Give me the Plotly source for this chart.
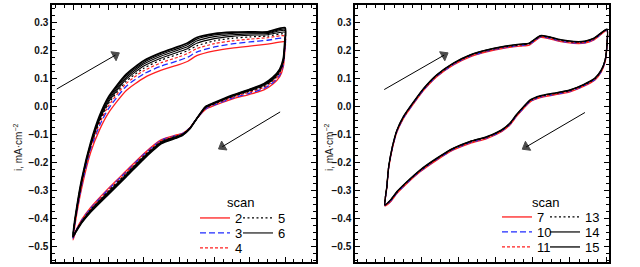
import plotly.graph_objects as go

# ---------------- data: left panel (scans 2-6 and later black scans) ----------------
E_up_L = [0, 0.02, 0.05, 0.1, 0.15, 0.2, 0.3, 0.4, 0.5, 0.6, 0.65, 0.7, 0.8, 0.9, 1.0, 1.1, 1.2]
E_dn_L = [1.2, 1.198, 1.19, 1.17, 1.13, 1.08, 1.0, 0.9, 0.8, 0.75, 0.7, 0.66, 0.62, 0.58, 0.5, 0.4, 0.3, 0.2, 0.1, 0.05, 0.02, 0]

scan2_up = [-0.478, -0.39, -0.29, -0.165, -0.085, -0.025, 0.055, 0.1, 0.128, 0.148, 0.16, 0.18, 0.197, 0.207, 0.214, 0.221, 0.229]
scan3_up = [-0.472, -0.382, -0.28, -0.152, -0.07, -0.01, 0.07, 0.115, 0.143, 0.163, 0.175, 0.193, 0.211, 0.222, 0.229, 0.235, 0.242]
scan4_up = [-0.47, -0.378, -0.275, -0.146, -0.062, 0.0, 0.08, 0.126, 0.155, 0.176, 0.188, 0.205, 0.223, 0.233, 0.239, 0.244, 0.25]
scan5_up = [-0.468, -0.375, -0.271, -0.142, -0.055, 0.008, 0.088, 0.135, 0.165, 0.186, 0.198, 0.215, 0.233, 0.242, 0.247, 0.25, 0.257]
scan6_up = [-0.467, -0.373, -0.268, -0.139, -0.05, 0.014, 0.095, 0.143, 0.172, 0.194, 0.206, 0.224, 0.241, 0.249, 0.253, 0.255, 0.264]
scan6b_up = [-0.466, -0.371, -0.265, -0.136, -0.045, 0.02, 0.101, 0.15, 0.179, 0.201, 0.213, 0.232, 0.248, 0.255, 0.258, 0.259, 0.27]
scan6c_up = [-0.465, -0.369, -0.262, -0.133, -0.04, 0.026, 0.107, 0.156, 0.185, 0.207, 0.22, 0.239, 0.254, 0.26, 0.262, 0.262, 0.275]
scan6d_up = [-0.464, -0.367, -0.259, -0.13, -0.035, 0.032, 0.113, 0.162, 0.191, 0.213, 0.226, 0.245, 0.259, 0.264, 0.265, 0.265, 0.28]

scan2_dn = [0.229, 0.19, 0.14, 0.105, 0.078, 0.058, 0.042, 0.025, 0.002, -0.012, -0.045, -0.078, -0.097, -0.104, -0.12, -0.17, -0.232, -0.294, -0.362, -0.405, -0.44, -0.478]
scan3_dn = [0.242, 0.199, 0.147, 0.111, 0.083, 0.063, 0.046, 0.028, 0.004, -0.01, -0.045, -0.079, -0.098, -0.106, -0.122, -0.173, -0.236, -0.298, -0.365, -0.407, -0.441, -0.472]
scan4_dn = [0.25, 0.205, 0.152, 0.116, 0.087, 0.067, 0.05, 0.031, 0.006, -0.008, -0.045, -0.079, -0.099, -0.107, -0.124, -0.176, -0.239, -0.301, -0.368, -0.409, -0.442, -0.47]
scan5_dn = [0.257, 0.21, 0.156, 0.12, 0.091, 0.07, 0.053, 0.033, 0.008, -0.006, -0.045, -0.08, -0.1, -0.109, -0.126, -0.179, -0.242, -0.304, -0.37, -0.411, -0.443, -0.468]
scan6_dn = [0.264, 0.215, 0.16, 0.124, 0.094, 0.073, 0.055, 0.035, 0.009, -0.005, -0.045, -0.08, -0.101, -0.11, -0.128, -0.181, -0.245, -0.307, -0.372, -0.412, -0.443, -0.467]
scan6b_dn = [0.27, 0.22, 0.163, 0.127, 0.097, 0.076, 0.057, 0.036, 0.01, -0.004, -0.045, -0.081, -0.102, -0.112, -0.13, -0.184, -0.248, -0.31, -0.374, -0.414, -0.444, -0.466]
scan6c_dn = [0.275, 0.224, 0.166, 0.13, 0.1, 0.078, 0.059, 0.037, 0.011, -0.003, -0.045, -0.081, -0.103, -0.113, -0.132, -0.186, -0.25, -0.312, -0.376, -0.415, -0.444, -0.465]
scan6d_dn = [0.28, 0.228, 0.169, 0.132, 0.102, 0.08, 0.06, 0.038, 0.012, -0.002, -0.045, -0.082, -0.104, -0.115, -0.134, -0.189, -0.253, -0.315, -0.378, -0.416, -0.445, -0.464]

# ---------------- data: right panel (scans 7-15) ----------------
E_up_R = [0, 0.01, 0.02, 0.04, 0.065, 0.1, 0.15, 0.21, 0.28, 0.37, 0.46, 0.55, 0.64, 0.73, 0.78, 0.805, 0.84, 0.88, 0.95, 1.02, 1.08, 1.13, 1.2]
E_dn_R = [1.2, 1.199, 1.19, 1.17, 1.135, 1.07, 1.0, 0.91, 0.84, 0.785, 0.75, 0.71, 0.675, 0.63, 0.55, 0.46, 0.37, 0.28, 0.19, 0.12, 0.065, 0.03, 0]

scan7_up = [-0.357, -0.293, -0.222, -0.151, -0.092, -0.044, 0.004, 0.057, 0.105, 0.147, 0.176, 0.194, 0.206, 0.214, 0.218, 0.230, 0.245, 0.242, 0.230, 0.224, 0.225, 0.236, 0.270]
scan10_up = [-0.355, -0.291, -0.220, -0.149, -0.090, -0.042, 0.006, 0.059, 0.107, 0.149, 0.178, 0.196, 0.208, 0.216, 0.220, 0.232, 0.247, 0.244, 0.232, 0.226, 0.227, 0.238, 0.271]
scan11_up = [-0.354, -0.290, -0.219, -0.148, -0.089, -0.041, 0.007, 0.060, 0.108, 0.150, 0.179, 0.197, 0.209, 0.217, 0.221, 0.233, 0.248, 0.245, 0.233, 0.227, 0.228, 0.239, 0.272]
scan13_up = [-0.353, -0.289, -0.218, -0.146, -0.087, -0.039, 0.009, 0.062, 0.110, 0.152, 0.181, 0.199, 0.211, 0.219, 0.223, 0.235, 0.250, 0.247, 0.235, 0.229, 0.230, 0.241, 0.273]
scan14_up = [-0.353, -0.288, -0.217, -0.145, -0.086, -0.038, 0.010, 0.063, 0.111, 0.153, 0.182, 0.200, 0.212, 0.220, 0.224, 0.236, 0.251, 0.248, 0.236, 0.230, 0.231, 0.242, 0.274]
scan15_up = [-0.352, -0.287, -0.216, -0.144, -0.085, -0.037, 0.011, 0.064, 0.112, 0.154, 0.183, 0.201, 0.213, 0.221, 0.225, 0.237, 0.252, 0.249, 0.237, 0.231, 0.232, 0.243, 0.275]

scan7_dn = [0.270, 0.206, 0.158, 0.123, 0.093, 0.069, 0.051, 0.039, 0.030, 0.015, -0.008, -0.038, -0.068, -0.092, -0.116, -0.133, -0.157, -0.193, -0.235, -0.276, -0.312, -0.342, -0.357]
scan10_dn = [0.271, 0.208, 0.160, 0.125, 0.095, 0.071, 0.053, 0.041, 0.032, 0.017, -0.006, -0.036, -0.066, -0.090, -0.114, -0.131, -0.155, -0.191, -0.233, -0.274, -0.310, -0.340, -0.355]
scan11_dn = [0.272, 0.209, 0.161, 0.126, 0.096, 0.072, 0.054, 0.042, 0.033, 0.018, -0.005, -0.035, -0.065, -0.089, -0.113, -0.130, -0.154, -0.190, -0.232, -0.273, -0.309, -0.339, -0.354]
scan13_dn = [0.273, 0.211, 0.163, 0.128, 0.098, 0.074, 0.056, 0.044, 0.035, 0.020, -0.003, -0.033, -0.063, -0.087, -0.111, -0.128, -0.152, -0.188, -0.230, -0.271, -0.307, -0.337, -0.353]
scan14_dn = [0.274, 0.212, 0.164, 0.129, 0.099, 0.075, 0.057, 0.045, 0.036, 0.021, -0.002, -0.032, -0.062, -0.086, -0.110, -0.127, -0.151, -0.187, -0.229, -0.270, -0.306, -0.336, -0.353]
scan15_dn = [0.275, 0.213, 0.165, 0.13, 0.1, 0.076, 0.058, 0.046, 0.037, 0.022, -0.001, -0.031, -0.061, -0.085, -0.109, -0.126, -0.15, -0.186, -0.228, -0.269, -0.305, -0.335, -0.352]

# scan-direction arrows ([tail E, head E], [tail i, head i]) per panel
arrow_left_fwd = ([-0.092, 0.24], [0.061, 0.182])
arrow_left_rev = ([1.172, 0.845], [-0.021, -0.145])
arrow_right_fwd = ([-0.004, 0.32], [0.059, 0.182])
arrow_right_rev = ([1.081, 0.763], [-0.023, -0.146])

y_title = "i, mA·cm<sup>−2</sup>"

# ---------------- styles ----------------
RED = "#ff1f1f"
BLUE = "#1f2bff"
BLK = "#000000"
FONT = "Liberation Sans, Arial, sans-serif"

W, H = 640, 267


def px_x(p):
    return p / W


def px_y(p):
    return 1 - p / H


fig = go.Figure()

left_series = [
    ("2", scan2_up, scan2_dn, RED, "solid", 1.3, "legend"),
    ("3", scan3_up, scan3_dn, BLUE, "6px,3px", 1.3, "legend2"),
    ("4", scan4_up, scan4_dn, RED, "3px,2px", 1.2, "legend3"),
    ("5", scan5_up, scan5_dn, BLK, "2px,2.5px", 1.2, "legend4"),
    ("6", scan6_up, scan6_dn, BLK, "solid", 1.1, "legend5"),
    ("6b", scan6b_up, scan6b_dn, BLK, "solid", 1.1, None),
    ("6c", scan6c_up, scan6c_dn, BLK, "solid", 1.2, None),
    ("6d", scan6d_up, scan6d_dn, BLK, "solid", 1.8, None),
]
for name, iu, idn, col, dash, w, lg in left_series:
    fig.add_trace(go.Scatter(
        x=E_up_L + E_dn_L[1:], y=iu + idn[1:], mode="lines", name=name,
        line=dict(color=col, dash=dash, width=w, shape="spline", smoothing=0.6),
        xaxis="x", yaxis="y", showlegend=lg is not None,
        legend=lg if lg else "legend"))

right_series = [
    ("7", scan7_up, scan7_dn, RED, "solid", 1.3, "legend6"),
    ("10", scan10_up, scan10_dn, BLUE, "6px,3px", 1.3, "legend7"),
    ("11", scan11_up, scan11_dn, RED, "3px,2px", 1.2, "legend8"),
    ("13", scan13_up, scan13_dn, BLK, "2px,2.5px", 1.2, "legend9"),
    ("14", scan14_up, scan14_dn, BLK, "solid", 1.2, "legend10"),
    ("15", scan15_up, scan15_dn, BLK, "solid", 1.3, "legend11"),
]
for name, iu, idn, col, dash, w, lg in right_series:
    fig.add_trace(go.Scatter(
        x=E_up_R + E_dn_R[1:], y=iu + idn[1:], mode="lines", name=name,
        line=dict(color=col, dash=dash, width=w, shape="spline", smoothing=0.6),
        xaxis="x2", yaxis="y2", legend=lg))

# direction arrows drawn as two-point lines with a filled triangular head
for (ax_, ay_), xa, ya in [(arrow_left_fwd, "x", "y"), (arrow_left_rev, "x", "y"),
                           (arrow_right_fwd, "x2", "y2"), (arrow_right_rev, "x2", "y2")]:
    fig.add_trace(go.Scatter(
        x=ax_, y=ay_, mode="lines+markers", xaxis=xa, yaxis=ya, showlegend=False,
        hoverinfo="skip", line=dict(color="black", width=1),
        marker=dict(symbol="triangle-up", angleref="previous", size=[0, 9], color="black",
                    line=dict(width=1, color="black"))))

# legends: one entry each, arranged in two columns like the original
leg_pos = {
    "legend": (195, 218), "legend2": (195, 233), "legend3": (195, 248),
    "legend4": (238, 218), "legend5": (238, 233),
    "legend6": (497, 217), "legend7": (497, 232), "legend8": (497, 247),
    "legend9": (545, 217), "legend10": (545, 232), "legend11": (545, 247),
}
leg_layout = {}
for k, (lx, ly) in leg_pos.items():
    leg_layout[k] = dict(x=px_x(lx), y=px_y(ly), xanchor="left", yanchor="middle",
                         bgcolor="rgba(0,0,0,0)", borderwidth=0, itemwidth=30,
                         font=dict(family=FONT, size=13, color="black"))

axis_common = dict(showgrid=False, zeroline=False, showline=True, linecolor="black",
                   linewidth=1.5, mirror="allticks", ticks="inside", ticklen=5,
                   tickwidth=1, tickcolor="black")
tickfont = dict(family=FONT, size=10, weight="bold", color="#111")

fig.update_layout(
    width=W, height=H, margin=dict(l=0, r=0, t=0, b=0),
    paper_bgcolor="white", plot_bgcolor="white",
    font=dict(family=FONT, size=10, color="black"),
    xaxis=dict(domain=[px_x(52), px_x(316)], range=[-0.119, 1.375], showticklabels=False,
               tick0=0, dtick=0.2, minor=dict(ticks="inside", ticklen=3, dtick=0.05, tick0=0),
               anchor="y", **axis_common),
    yaxis=dict(domain=[px_y(262), px_y(5)], range=[-0.557, 0.361], tick0=0, dtick=0.1,
               tickformat=".1f", tickfont=tickfont,
               minor=dict(ticks="inside", ticklen=3, dtick=0.025, tick0=0),
               anchor="x", **axis_common),
    xaxis2=dict(domain=[px_x(355), px_x(609)], range=[-0.162, 1.211], showticklabels=False,
                tick0=0, dtick=0.2, minor=dict(ticks="inside", ticklen=3, dtick=0.05, tick0=0),
                anchor="y2", **axis_common),
    yaxis2=dict(domain=[px_y(262), px_y(5)], range=[-0.557, 0.361], tick0=0, dtick=0.1,
                tickformat=".1f", tickfont=tickfont,
                minor=dict(ticks="inside", ticklen=3, dtick=0.025, tick0=0),
                anchor="x2", **axis_common),
    hovermode=False,
    **leg_layout,
)

annotations = [
    dict(text=y_title, x=px_x(18), y=px_y(147), xref="paper", yref="paper", showarrow=False,
         xanchor="center", yanchor="middle", textangle=-90,
         font=dict(family=FONT, size=10, color="#222")),
    dict(text=y_title, x=px_x(329), y=px_y(147), xref="paper", yref="paper", showarrow=False,
         xanchor="center", yanchor="middle", textangle=-90,
         font=dict(family=FONT, size=10, color="#222")),
    dict(text="scan", x=px_x(240), y=px_y(202), xref="paper", yref="paper", showarrow=False,
         xanchor="center", yanchor="middle", font=dict(family=FONT, size=13, color="black")),
    dict(text="scan", x=px_x(545), y=px_y(202), xref="paper", yref="paper", showarrow=False,
         xanchor="center", yanchor="middle", font=dict(family=FONT, size=13, color="black")),
]
fig.update_layout(annotations=annotations)

# remove the default 8px page margin so the figure starts at the window corner
fig.write_html("out.html", config={"displayModeBar": False},
               post_script="document.body.style.margin='0px';")
